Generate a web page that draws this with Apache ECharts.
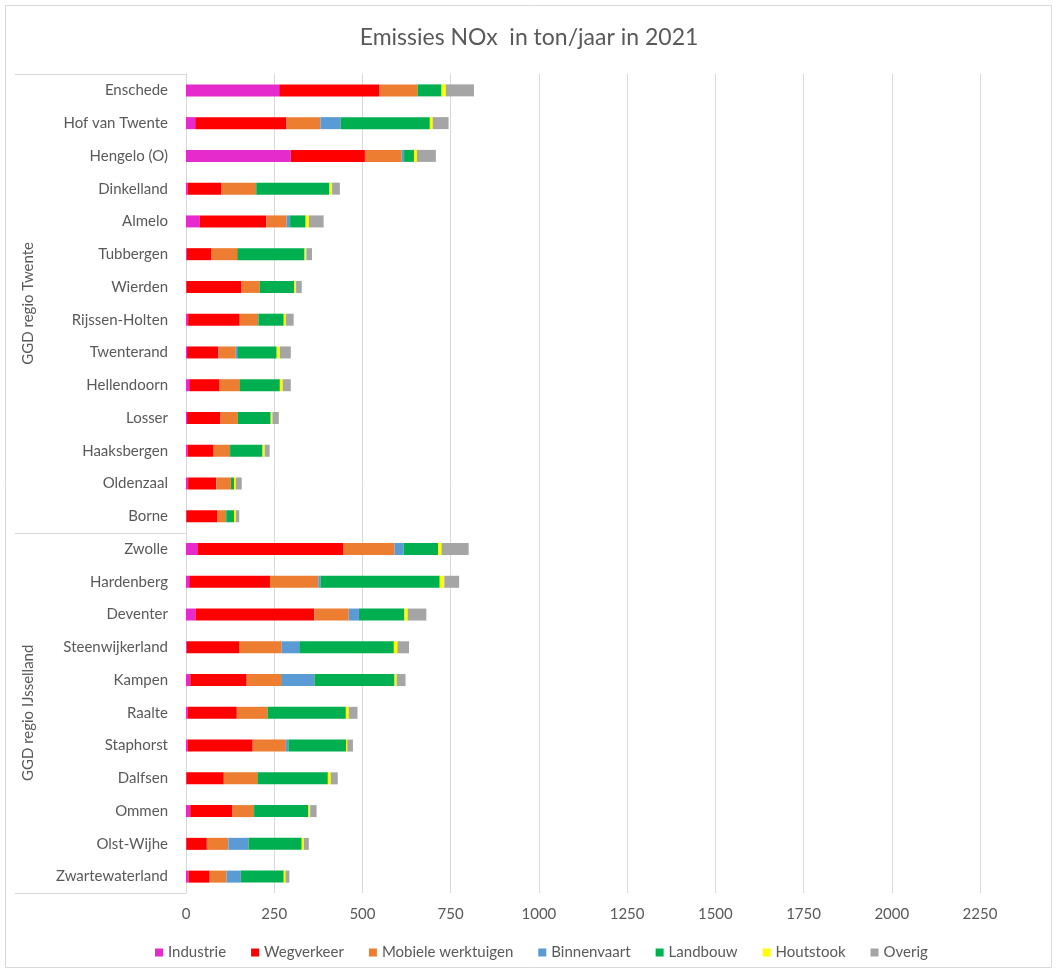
<!DOCTYPE html>
<html>
<head>
<meta charset="utf-8">
<script src="https://cdn.jsdelivr.net/npm/echarts@6/dist/echarts.min.js"></script>
<style>
  html, body { margin: 0; padding: 0; background: #fff; }
  #chart { width: 1058px; height: 974px; }
</style>
</head>
<body>
<div id="chart"></div>
<script>
// Emissies NOx per gemeente (ton/jaar, 2021)
const categories = [
  "Enschede", "Hof van Twente", "Hengelo (O)", "Dinkelland", "Almelo", "Tubbergen",
  "Wierden", "Rijssen-Holten", "Twenterand", "Hellendoorn", "Losser", "Haaksbergen",
  "Oldenzaal", "Borne",
  "Zwolle", "Hardenberg", "Deventer", "Steenwijkerland", "Kampen", "Raalte",
  "Staphorst", "Dalfsen", "Ommen", "Olst-Wijhe", "Zwartewaterland"
];
const groups = ["GGD regio Twente", "GGD regio IJsselland"];
const groupSizes = [14, 11];

const industrie   = [264, 26, 297, 4, 38, 2, 1, 6, 3, 9, 3, 4, 6, 1, 32, 9, 28, 2, 12, 4, 4, 1, 12, 1, 7];
const wegverkeer  = [284, 259, 210, 96, 190, 70, 156, 146, 89, 86, 95, 74, 80, 88, 414, 229, 336, 149, 160, 140, 185, 106, 120, 58, 60];
const mobiele     = [109, 96, 104, 99, 57, 73, 52, 53, 49, 58, 48, 47, 41, 25, 145, 137, 97, 120, 100, 87, 94, 97, 58, 61, 48];
const binnenvaart = [0, 57, 7, 0, 10, 0, 0, 0, 4, 0, 0, 0, 0, 0, 26, 6, 29, 52, 92, 0, 7, 0, 3, 57, 40];
const landbouw    = [67, 253, 28, 207, 44, 191, 98, 72, 112, 113, 94, 92, 9, 22, 98, 338, 129, 266, 227, 222, 164, 198, 154, 151, 122];
const houtstook   = [12, 8, 8, 8, 9, 5, 5, 6, 9, 8, 5, 6, 5, 5, 9, 13, 9, 10, 6, 8, 3, 8, 5, 6, 5];
const overig      = [80, 45, 54, 22, 42, 16, 16, 22, 31, 23, 18, 14, 17, 10, 77, 42, 53, 33, 25, 25, 16, 20, 18, 14, 11];

const xTicks = { min: 0, max: 2250, interval: 250 };

const seriesDefs = [
  { name: "Industrie", data: industrie, color: "#E52BCB" },
  { name: "Wegverkeer", data: wegverkeer, color: "#FF0000" },
  { name: "Mobiele werktuigen", data: mobiele, color: "#ED7D31" },
  { name: "Binnenvaart", data: binnenvaart, color: "#5B9BD5" },
  { name: "Landbouw", data: landbouw, color: "#00B050" },
  { name: "Houtstook", data: houtstook, color: "#FFFF00" },
  { name: "Overig", data: overig, color: "#A5A5A5" }
];

const font = "Lato, 'Open Sans', sans-serif";
const textColor = "#595959";

const chart = echarts.init(document.getElementById("chart"));

chart.setOption({
  animation: false,
  textStyle: { fontFamily: font },
  title: {
    text: "Emissies NOx  in ton/jaar in 2021",
    left: "center",
    top: 21,
    textStyle: { fontFamily: font, fontSize: 23, fontWeight: "normal", color: textColor }
  },
  legend: {
    bottom: 9,
    left: 150,
    icon: "rect",
    itemWidth: 8,
    itemHeight: 8,
    itemGap: 25,
    textStyle: { fontFamily: font, fontSize: 15, color: textColor },
    data: seriesDefs.map((s) => s.name)
  },
  grid: { left: 186, right: 78, top: 74, bottom: 81, containLabel: false },
  xAxis: {
    type: "value",
    min: xTicks.min,
    max: xTicks.max,
    interval: xTicks.interval,
    axisLine: { show: false },
    axisTick: { show: false },
    axisLabel: { color: textColor, fontSize: 15, margin: 14, formatter: (v) => String(v) },
    splitLine: { lineStyle: { color: "#D9D9D9", width: 1 } }
  },
  yAxis: {
    type: "category",
    inverse: true,
    data: categories,
    axisLine: { show: true, lineStyle: { color: "#D9D9D9" } },
    axisTick: { show: false },
    axisLabel: { color: textColor, fontSize: 15, margin: 18 }
  },
  series: seriesDefs.map((s) => ({
    name: s.name,
    type: "bar",
    stack: "totaal",
    barWidth: 12,
    itemStyle: { color: s.color },
    data: s.data
  }))
});

// Groepskaders en groepslabels links van de categorie-as
function drawGroups() {
  const y0 = chart.convertToPixel({ yAxisIndex: 0 }, categories[0]);
  const y1 = chart.convertToPixel({ yAxisIndex: 0 }, categories[1]);
  const step = y1 - y0;
  const xAxisPx = chart.convertToPixel({ xAxisIndex: 0 }, 0);
  const leftPx = 15;
  const elements = [];
  let start = 0;
  const bounds = [y0 - step / 2];
  groupSizes.forEach((size, gi) => {
    const top = chart.convertToPixel({ yAxisIndex: 0 }, categories[start]) - step / 2;
    const bottom = chart.convertToPixel({ yAxisIndex: 0 }, categories[start + size - 1]) + step / 2;
    bounds.push(bottom);
    elements.push({
      type: "text",
      x: 28,
      y: (top + bottom) / 2,
      rotation: Math.PI / 2,
      style: {
        text: groups[gi],
        fill: textColor,
        font: "15px " + font,
        align: "center",
        verticalAlign: "middle"
      }
    });
    start += size;
  });
  bounds.forEach((y) => {
    elements.push({
      type: "line",
      shape: { x1: leftPx, y1: Math.round(y) + 0.5, x2: xAxisPx, y2: Math.round(y) + 0.5 },
      style: { stroke: "#D9D9D9", lineWidth: 1 }
    });
  });
  elements.push({
    type: "rect",
    shape: { x: 5.5, y: 5.5, width: 1046, height: 962 },
    style: { fill: "none", stroke: "#D9D9D9", lineWidth: 1 },
    silent: true
  });
  chart.setOption({ graphic: elements });
}

drawGroups();
</script>
</body>
</html>
